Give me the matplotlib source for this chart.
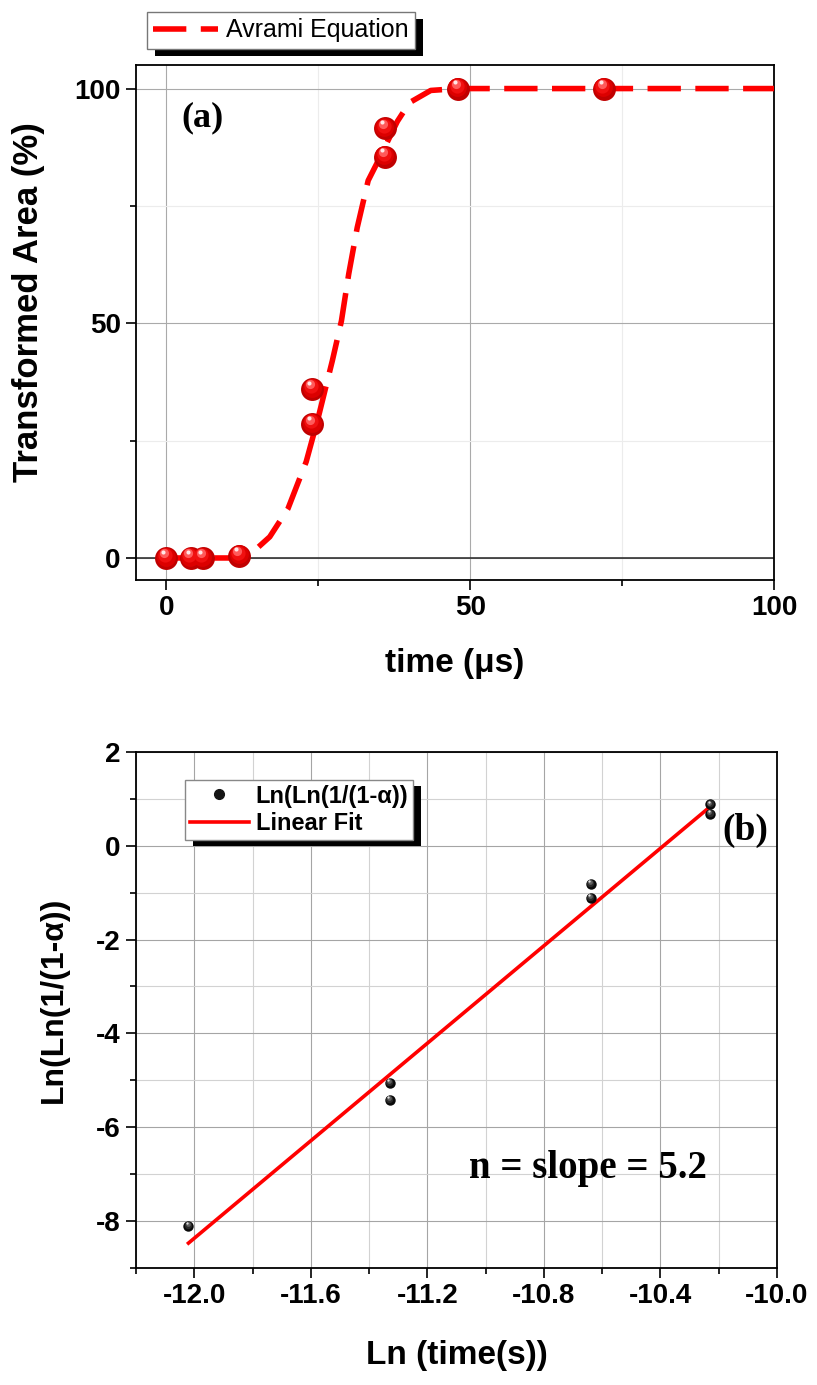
import matplotlib.pyplot as plt
import matplotlib.transforms as mtransforms
from matplotlib.lines import Line2D
from matplotlib.patches import Rectangle
from matplotlib.ticker import MultipleLocator, FormatStrFormatter

plt.rcParams['font.family'] = ['Liberation Sans', 'DejaVu Sans']
plt.rcParams['axes.unicode_minus'] = False

# (a) measured transformed area vs time
time_us = [0, 4, 6, 12, 24, 24, 36, 36, 48, 72]
area_pct = [0, 0, 0, 0.5, 36, 28.5, 91.5, 85.5, 100, 100]

# (a) Avrami equation curve
avrami_t = [0, 12, 14, 17, 20, 23, 25, 27.3, 28.8, 30, 31.4, 33.2, 35, 36.5, 38, 40, 43.5, 48, 60, 80, 100]
avrami_pct = [0, 0, 1, 4.5, 10.5, 20.5, 30, 42, 50.5, 60.5, 70.4, 80.4, 85, 89, 93, 97, 99.6, 100, 100, 100, 100]

# (b) Avrami plot
ln_time = [-12.02, -11.33, -11.33, -10.64, -10.64, -10.23, -10.23]
lnln = [-8.10, -5.06, -5.42, -0.82, -1.11, 0.88, 0.68]
fit_x = [-12.02, -10.23]
fit_y = [-8.47, 0.83]

red_shades = [(1.0, '#c00000'), (0.82, '#dc0000'), (0.62, '#f01010'),
              (0.40, '#ff5a5a'), (0.18, '#ffe6e6')]
dark_shades = [(1.0, '#0a0a0a'), (0.7, '#2a2a2a'), (0.45, '#606060'), (0.22, '#e0e0e0')]


def spheres(ax, x, y, size, shades, z=4):
    # layered circles shifted to the upper left give a shaded ball look
    for i, (frac, col) in enumerate(shades):
        s = size * frac
        off = (size - s) / 2 * 0.75
        tr = mtransforms.offset_copy(ax.transData, fig=ax.figure,
                                     x=-0.45 * off, y=0.9 * off, units='points')
        ax.plot(x, y, ls='none', marker='o', ms=s, color=col, mec='none',
                transform=tr, zorder=z + i * 0.01)


def style_axes(ax):
    for sp in ax.spines.values():
        sp.set_linewidth(1.3)
    ax.tick_params(which='both', direction='out', top=False, right=False,
                   width=1.2, labelsize=20, pad=4)
    ax.tick_params(which='major', length=7)
    ax.tick_params(which='minor', length=4.5)
    for lab in ax.get_xticklabels() + ax.get_yticklabels():
        lab.set_fontweight('bold')


def shadow_box(ax, leg, dx=8, dy=7):
    ax.figure.canvas.draw()
    bb = leg.get_window_extent()
    rect = Rectangle((bb.x0 + dx, bb.y0 - dy), bb.width, bb.height,
                     transform=mtransforms.IdentityTransform(),
                     facecolor='black', edgecolor='none', zorder=leg.get_zorder() - 0.1)
    ax.add_patch(rect)
    rect.set_clip_on(False)


fig = plt.figure(figsize=(8.17, 13.85), dpi=100)

# ---------------- panel (a) ----------------
ax1 = fig.add_axes([0.1665, 0.5812, 0.781, 0.3718])
ax1.set_xlim(-5, 100)
ax1.set_ylim(-4.7, 105)
ax1.xaxis.set_major_locator(MultipleLocator(50))
ax1.xaxis.set_minor_locator(MultipleLocator(25))
ax1.yaxis.set_major_locator(MultipleLocator(50))
ax1.yaxis.set_minor_locator(MultipleLocator(25))
ax1.grid(which='major', color='#aaaaaa', lw=0.8)
ax1.grid(which='minor', color='#ececec', lw=0.8)
ax1.set_axisbelow(True)
ax1.axhline(0, color='#333333', lw=1.2, zorder=1)

ax1.plot(avrami_t, avrami_pct, color='#ff0000', lw=4, ls=(0, (6, 2.6)),
         zorder=3, label='Avrami Equation')
spheres(ax1, time_us, area_pct, 16.5, red_shades)

ax1.text(5.9, 93.8, '(a)', family='Liberation Serif', fontweight='bold',
         fontsize=26, ha='center', va='center')

ax1.set_xlabel('time (\u03bcs)', fontsize=24, fontweight='bold')
ax1.set_ylabel('Transformed Area (%)', fontsize=25, fontweight='bold')
ax1.xaxis.label.set_va('center')
ax1.yaxis.label.set_va('center')
ax1.xaxis.set_label_coords(0.5, -0.163)
ax1.yaxis.set_label_coords(-0.169, 0.54)
style_axes(ax1)

leg1 = ax1.legend(loc='upper left', bbox_to_anchor=(147 / 817, 1 - 12 / 1385),
                  bbox_transform=fig.transFigure, borderaxespad=0,
                  fontsize=18, frameon=True, fancybox=False, framealpha=1,
                  edgecolor='#777777', handlelength=2.6, handletextpad=0.3,
                  borderpad=0.25)
leg1.get_frame().set_linewidth(1.0)

# ---------------- panel (b) ----------------
ax2 = fig.add_axes([0.1665, 0.0845, 0.7846, 0.3726])
ax2.set_xlim(-12.2, -10.0)
ax2.set_ylim(-9, 2)
ax2.xaxis.set_major_locator(MultipleLocator(0.4))
ax2.xaxis.set_minor_locator(MultipleLocator(0.2))
ax2.yaxis.set_major_locator(MultipleLocator(2))
ax2.yaxis.set_minor_locator(MultipleLocator(1))
ax2.xaxis.set_major_formatter(FormatStrFormatter('%.1f'))
ax2.set_xticks([-12.0, -11.6, -11.2, -10.8, -10.4, -10.0])
ax2.grid(which='major', color='#a5a5a5', lw=0.8)
ax2.grid(which='minor', color='#d2d2d2', lw=0.8)
ax2.set_axisbelow(True)

ax2.plot(fit_x, fit_y, color='#ff0000', lw=2.6, zorder=3)
spheres(ax2, ln_time, lnln, 7.5, dark_shades, z=5)

ax2.text(-10.11, 0.32, '(b)', family='Liberation Serif', fontweight='bold',
         fontsize=27, ha='center', va='center')
ax2.text(-10.65, -6.87, 'n = slope = 5.2', family='Liberation Serif',
         fontweight='bold', fontsize=28, ha='center', va='center')

ax2.set_xlabel('Ln (time(s))', fontsize=24, fontweight='bold')
ax2.set_ylabel('Ln(Ln(1/(1-\u03b1))', fontsize=23, fontweight='bold')
ax2.xaxis.label.set_va('center')
ax2.yaxis.label.set_va('center')
ax2.xaxis.set_label_coords(0.5, -0.169)
ax2.yaxis.set_label_coords(-0.128, 0.52)
style_axes(ax2)

handles = [Line2D([], [], ls='none', marker='o', ms=7, color='#151515'),
           Line2D([], [], color='#ff0000', lw=2.6)]
leg2 = ax2.legend(handles, ['Ln(Ln(1/(1-\u03b1))', 'Linear Fit'],
                  loc='upper left', bbox_to_anchor=(185 / 817, 1 - 780 / 1385),
                  bbox_transform=fig.transFigure, borderaxespad=0,
                  prop={'weight': 'bold', 'size': 17}, frameon=True,
                  fancybox=False, framealpha=1, edgecolor='#888888',
                  handlelength=2.5, handletextpad=0.3, borderpad=0.2,
                  labelspacing=0.2)
leg2.get_frame().set_linewidth(1.0)

shadow_box(ax1, leg1)
shadow_box(ax2, leg2, dx=8, dy=6)

fig.savefig('out.png', dpi=100)
